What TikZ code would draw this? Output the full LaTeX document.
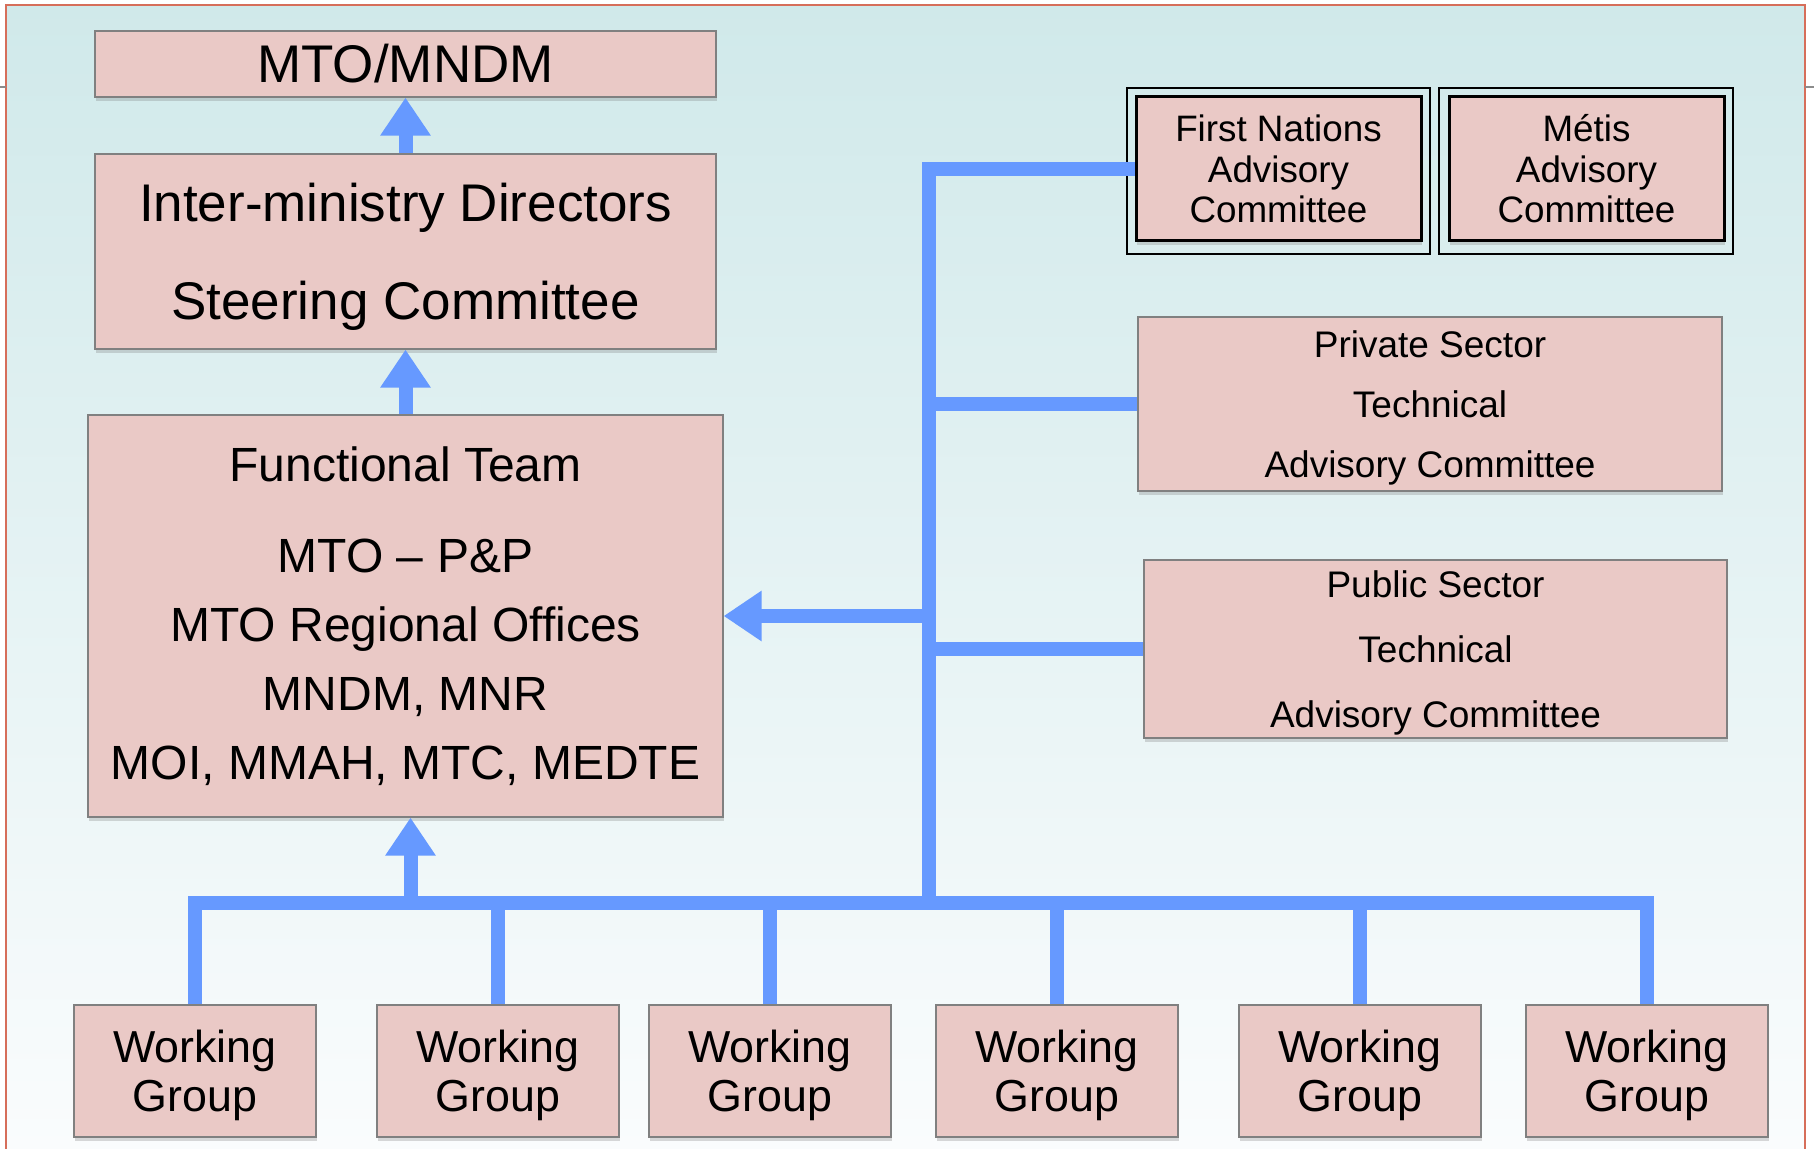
\documentclass[tikz,border=0pt]{standalone}
\usepackage{fontspec}
\setmainfont{Liberation Sans}
\usetikzlibrary{arrows.meta,shadows,calc}

\definecolor{boxpink}{RGB}{234,201,198}
\definecolor{linkblue}{RGB}{102,153,255}
\definecolor{bgtop}{RGB}{208,233,234}
\definecolor{bgbottom}{RGB}{250,252,253}
\definecolor{framered}{RGB}{214,110,90}

\begin{document}
\begin{tikzpicture}[x=0.5pt, y=-0.5pt,
    box/.style = {draw=black!50, line width=0.6pt, fill=boxpink, align=center,
        inner sep=0pt, drop shadow={shadow xshift=0.5pt, shadow yshift=-2pt, opacity=0.3}},
    advbox/.style = {box, draw=black, line width=1.5pt, minimum width=#1, minimum height=72pt,
        font=\fontsize{18.4}{20.3}\selectfont},
    wgbox/.style = {box, minimum width=121pt, minimum height=66pt, text depth=0pt,
        font=\fontsize{22.4}{24.5}\selectfont},
    link/.style = {draw=linkblue, line width=7pt, line join=miter},
    arrowlink/.style = {link, -{Triangle[width=24pt,length=19pt]}}]

% background and slide frame
\useasboundingbox (0,0) rectangle (1814,1149);
\fill[top color=bgtop, bottom color=bgbottom] (6,5) rectangle (1805,1149);
\draw[framered, line width=1pt] (6,1149) -- (6,5) -- (1805,5) -- (1805,1149);
\draw[black!45, line width=1pt] (0,87) -- (6,87) (1805,87) -- (1814,87);

% left column
\node[box, minimum width=310.5pt, minimum height=33pt,
    font=\fontsize{26.5}{30}\selectfont] (mto) at (405.5,64) {MTO/MNDM};
\node[box, minimum width=310.5pt, minimum height=97.5pt, text depth=0pt,
    font=\fontsize{26.5}{49}\selectfont] (ims) at (405.5,251.5)
    {Inter-ministry Directors\\Steering Committee};
\node[box, minimum width=317.5pt, minimum height=201pt,
    font=\fontsize{24}{34.5}\selectfont] (ft) at (405.5,616)
    {Functional Team\\[11pt]MTO – P\&P\\MTO Regional Offices\\MNDM, MNR\\MOI, MMAH, MTC, MEDTE};

% advisory committees
\node[advbox=142.5pt] (fnac) at (1278.5,169) {First Nations\\Advisory\\Committee};
\node[advbox=137.5pt] (mac) at (1586.5,169) {Métis\\Advisory\\Committee};
\draw[line width=1pt] ($(fnac.north west)+(-8,-7)$) rectangle ($(fnac.south east)+(7,12)$);
\draw[line width=1pt] ($(mac.north west)+(-9,-7)$) rectangle ($(mac.south east)+(7,12)$);
\node[box, minimum width=292pt, minimum height=87pt, text depth=0pt,
    font=\fontsize{18.5}{30}\selectfont] (pstac) at (1430,404)
    {Private Sector\\Technical\\Advisory Committee};
\node[box, minimum width=291.5pt, minimum height=89pt, text depth=0pt,
    font=\fontsize{18.5}{32.5}\selectfont] (pubtac) at (1435.5,649)
    {Public Sector\\Technical\\Advisory Committee};

% working groups
\foreach \x [count=\i] in {195,498,770,1057,1360,1647}
    \node[wgbox] (wg\i) at (\x,1071) {Working\\Group};

% connectors
\coordinate (top) at (929,169);
\coordinate (bus) at (929,903);
\coordinate (ftin) at ($(ft.south)+(5,0)$);
\draw[link] (fnac.west) -| (bus);
\draw[link] (pstac.west) -- (pstac.west -| top);
\draw[link] (pubtac.west) -- (pubtac.west -| top);
\draw[arrowlink] (ft.east -| top) -- (ft.east);
\draw[link] (wg1.north) |- (bus) -| (wg6.north);
\foreach \i in {2,...,5}
    \draw[link] (wg\i.north) -- (wg\i.north |- bus);
\draw[arrowlink] (ftin |- bus) -- (ftin);
\draw[arrowlink] (ft.north) -- (ims.south);
\draw[arrowlink] (ims.north) -- (mto.south);
\end{tikzpicture}
\end{document}
